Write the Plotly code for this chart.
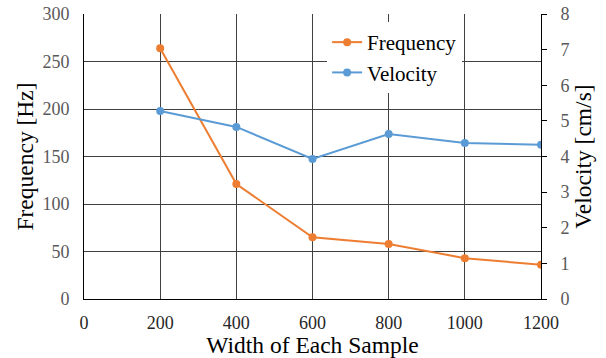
import plotly.graph_objects as go

widths = [200, 400, 600, 800, 1000, 1200]
frequency = [264, 121, 65, 58, 43, 36]
velocity = [5.28, 4.83, 3.93, 4.63, 4.38, 4.33]
x_ticks = [0, 200, 400, 600, 800, 1000, 1200]
y_ticks = [0, 50, 100, 150, 200, 250, 300]
y2_ticks = [0, 1, 2, 3, 4, 5, 6, 7, 8]

FONT = "Liberation Serif, Times New Roman, serif"
fig = go.Figure()
fig.add_trace(go.Scatter(x=widths, y=frequency, name="Frequency", mode="lines+markers",
                         line=dict(color="#ED7D31", width=2), marker=dict(size=8, color="#ED7D31")))
fig.add_trace(go.Scatter(x=widths, y=velocity, name="Velocity", mode="lines+markers", yaxis="y2",
                         line=dict(color="#5B9BD5", width=2), marker=dict(size=8, color="#5B9BD5")))

fig.update_layout(
    width=606, height=358,
    margin=dict(l=84, r=65, t=14, b=59),
    paper_bgcolor="white", plot_bgcolor="white",
    font=dict(family=FONT, size=18, color="#595959"),
    showlegend=True,
    legend=dict(x=0.532, y=0.972, xanchor="left", yanchor="top", bgcolor="white",
                font=dict(family=FONT, size=21, color="black"),
                tracegroupgap=0),
    xaxis=dict(range=[0, 1200], tickvals=x_ticks, showgrid=True, gridcolor="#404040", gridwidth=1,
               showline=True, linecolor="black", linewidth=1, ticks="", zeroline=False,
               automargin=False, ticklabelstandoff=7, ticklabeloverflow="allow",
               tickfont=dict(family=FONT, size=18, color="#262626"),
               title=dict(text="Width of Each Sample", font=dict(family=FONT, size=23.5, color="black"), standoff=2)),
    yaxis=dict(range=[0, 300], tickvals=y_ticks, showgrid=True, gridcolor="#404040", gridwidth=1,
               showline=True, linecolor="black", linewidth=1, ticks="", zeroline=False,
               automargin=False, ticklabelstandoff=10, ticklabeloverflow="allow",
               tickfont=dict(family=FONT, size=18, color="#595959"),
               title=dict(text="Frequency [Hz]", font=dict(family=FONT, size=23.5, color="black"), standoff=2)),
    yaxis2=dict(range=[0, 8], tickvals=y2_ticks, overlaying="y", side="right", showgrid=False,
                showline=True, linecolor="black", linewidth=1, ticks="outside", ticklen=5,
                tickcolor="black", zeroline=False, automargin=False, ticklabelstandoff=10,
                ticklabeloverflow="allow",
                tickfont=dict(family=FONT, size=18, color="#595959"),
                title=dict(text="Velocity [cm/s]", font=dict(family=FONT, size=23.5, color="black"), standoff=5)),
)
fig.write_html("out.html", config={"displayModeBar": False},
               post_script="document.body.style.margin='0';")
